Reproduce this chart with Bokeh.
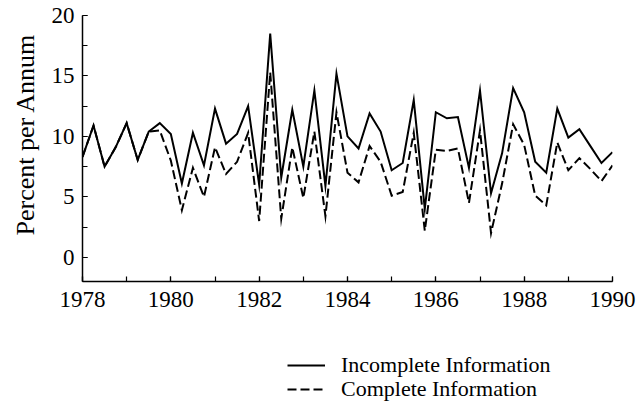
from bokeh.plotting import figure
from bokeh.layouts import column
from bokeh.models import (Range1d, SingleIntervalTicker, Legend, LegendItem,
                          ColumnDataSource, Title)
from bokeh.embed import file_html
from bokeh.resources import INLINE

# Quarterly observations, 1978Q1 .. 1990Q1
start_year = 1978
quarters = list(range(49))
years = [start_year + q / 4 for q in quarters]

incomplete = [8.3, 10.9, 7.5, 9.1, 11.1, 8.05, 10.4, 11.1, 10.2, 6.1,
              10.3, 7.6, 12.3, 9.4, 10.2, 12.5, 6.0, 18.5, 6.6, 12.2,
              7.5, 13.8, 5.9, 15.2, 10.0, 9.0, 11.9, 10.4, 7.2, 7.8,
              13.0, 4.0, 12.0, 11.5, 11.6, 7.4, 13.8, 5.3, 8.6, 14.0,
              12.0, 7.9, 7.0, 12.3, 9.9, 10.6, 9.2, 7.8, 8.7]

complete = [8.3, 10.9, 7.5, 9.1, 11.1, 8.05, 10.4, 10.5, 8.0, 3.9,
            7.4, 5.0, 9.1, 6.9, 7.9, 10.3, 3.0, 15.3, 3.2, 9.1,
            4.9, 10.4, 3.4, 12.0, 7.0, 6.2, 9.2, 7.9, 5.1, 5.4,
            10.3, 2.2, 8.9, 8.8, 9.0, 4.5, 10.5, 2.0, 6.1, 11.0,
            9.3, 5.1, 4.3, 9.5, 7.2, 8.2, 7.3, 6.3, 7.6]

labels = ["Incomplete Information", "Complete Information"]
y_label = "Percent per Annum"

src = ColumnDataSource(dict(x=years, inc=incomplete, com=complete))

FONT = "Liberation Serif"
SOLID = dict(line_color="black", line_width=2, line_join="miter")
DASHED = dict(line_color="black", line_width=2, line_join="miter", line_dash="9 4")

p = figure(width=636, height=330, output_backend="svg", toolbar_location=None,
           x_range=Range1d(1978, 1990), y_range=Range1d(-2, 20),
           min_border_left=82, min_border_right=24, min_border_top=15,
           min_border_bottom=49)
p.outline_line_color = None
p.xgrid.visible = False
p.ygrid.visible = False

p.line("x", "com", source=src, **DASHED)
p.line("x", "inc", source=src, **SOLID)

for ax in (p.xaxis[0], p.yaxis[0]):
    ax.axis_line_width = 1.5
    ax.axis_line_color = "black"
    ax.major_tick_in = 5
    ax.major_tick_out = 0
    ax.minor_tick_in = 5
    ax.minor_tick_out = 0
    ax.major_tick_line_width = 1.2
    ax.minor_tick_line_width = 1.2
    ax.major_label_text_font = FONT
    ax.major_label_text_font_size = "23px"
    ax.major_label_text_color = "black"

p.xaxis[0].major_label_standoff = 10
p.yaxis[0].major_label_standoff = 8
p.xaxis[0].ticker = SingleIntervalTicker(interval=2, num_minor_ticks=2)
p.yaxis[0].ticker = SingleIntervalTicker(interval=5, num_minor_ticks=2)

# y-axis title, centred on the 0..20 span like the original
p.add_layout(Title(text=y_label, text_font=FONT, text_font_size="26px",
                   text_font_style="normal", text_color="black",
                   align="left", offset=46, vertical_align="middle",
                   standoff=16), "left")

# legend panel below the chart (its frame is aligned with the chart's frame)
q = figure(width=636, height=75, output_backend="svg", toolbar_location=None,
           x_range=Range1d(1978, 1990), y_range=Range1d(100, 101),
           min_border=0, x_axis_location=None, y_axis_location=None)
q.outline_line_color = None
q.xgrid.visible = False
q.ygrid.visible = False
q_inc = q.line("x", "inc", source=src, **SOLID)
q_com = q.line("x", "com", source=src, **DASHED)

def make_legend(label, renderer, loc):
    return Legend(items=[LegendItem(label=label, renderers=[renderer])],
                  location=loc, orientation="vertical",
                  padding=0, margin=0, spacing=0,
                  glyph_width=38, glyph_height=24, label_height=24,
                  label_standoff=16,
                  label_text_font=FONT, label_text_font_size="22px",
                  label_text_color="black",
                  border_line_color=None, background_fill_alpha=0)

q.add_layout(make_legend(labels[0], q_inc, (205, 27)), "center")
q.add_layout(make_legend(labels[1], q_com, (205, 3)), "center")

open("out.html", "w").write(file_html(column(p, q, spacing=0), INLINE))
